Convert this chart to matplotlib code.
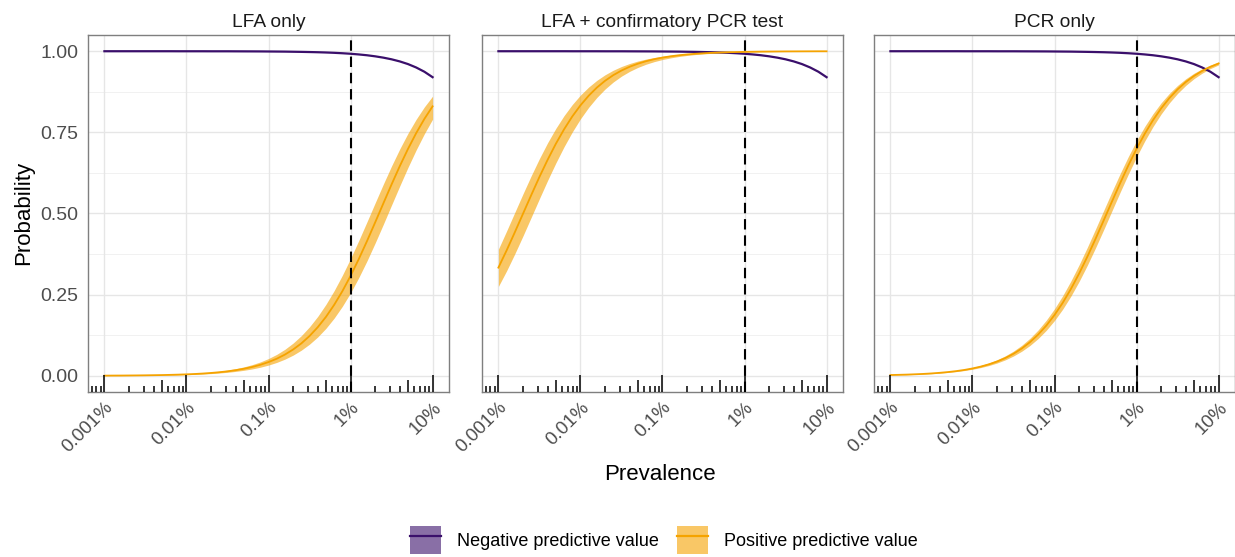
import matplotlib.pyplot as plt
from matplotlib.lines import Line2D
from matplotlib.patches import Patch
from matplotlib.transforms import blended_transform_factory

plt.rcParams['font.family'] = ['Liberation Sans', 'DejaVu Sans']

# prevalence (fraction), read every 0.1 decade from 0.001% to 10%
prevalence = [1.000e-5, 1.259e-5, 1.585e-5, 1.995e-5, 2.512e-5, 3.162e-5, 3.981e-5, 5.012e-5, 6.310e-5, 7.943e-5,
              1.000e-4, 1.259e-4, 1.585e-4, 1.995e-4, 2.512e-4, 3.162e-4, 3.981e-4, 5.012e-4, 6.310e-4, 7.943e-4,
              1.000e-3, 1.259e-3, 1.585e-3, 1.995e-3, 2.512e-3, 3.162e-3, 3.981e-3, 5.012e-3, 6.310e-3, 7.943e-3,
              1.000e-2, 1.259e-2, 1.585e-2, 1.995e-2, 2.512e-2, 3.162e-2, 3.981e-2, 5.012e-2, 6.310e-2, 7.943e-2,
              1.000e-1]

# negative predictive value (same in all three panels)
npv = [1.0000, 1.0000, 1.0000, 1.0000, 1.0000, 1.0000, 1.0000, 1.0000, 1.0000, 0.9999,
       0.9999, 0.9999, 0.9999, 0.9998, 0.9998, 0.9998, 0.9997, 0.9996, 0.9995, 0.9994,
       0.9992, 0.9990, 0.9988, 0.9984, 0.9980, 0.9975, 0.9969, 0.9961, 0.9951, 0.9938,
       0.9922, 0.9901, 0.9876, 0.9843, 0.9802, 0.9751, 0.9686, 0.9604, 0.9499, 0.9368,
       0.9200]

# positive predictive value: LFA only
ppv_lfa = [0.0004, 0.0006, 0.0007, 0.0009, 0.0011, 0.0014, 0.0018, 0.0022, 0.0028, 0.0035,
           0.0044, 0.0055, 0.0069, 0.0087, 0.0109, 0.0137, 0.0172, 0.0216, 0.0270, 0.0338,
           0.0422, 0.0525, 0.0653, 0.0809, 0.0997, 0.1225, 0.1496, 0.1814, 0.2184, 0.2605,
           0.3077, 0.3594, 0.4147, 0.4725, 0.5313, 0.5896, 0.6459, 0.6989, 0.7477, 0.7915,
           0.8302]
ppv_lfa_lo = [0.0003, 0.0004, 0.0005, 0.0007, 0.0009, 0.0011, 0.0014, 0.0017, 0.0021, 0.0027,
              0.0034, 0.0043, 0.0054, 0.0067, 0.0085, 0.0106, 0.0134, 0.0168, 0.0210, 0.0263,
              0.0329, 0.0411, 0.0512, 0.0636, 0.0789, 0.0974, 0.1196, 0.1462, 0.1776, 0.2140,
              0.2556, 0.3024, 0.3538, 0.4091, 0.4670, 0.5262, 0.5850, 0.6421, 0.6960, 0.7458,
              0.7907]
ppv_lfa_hi = [0.0006, 0.0007, 0.0009, 0.0011, 0.0014, 0.0018, 0.0022, 0.0028, 0.0035, 0.0044,
              0.0056, 0.0070, 0.0088, 0.0111, 0.0139, 0.0174, 0.0219, 0.0273, 0.0342, 0.0426,
              0.0531, 0.0659, 0.0816, 0.1007, 0.1236, 0.1509, 0.1829, 0.2200, 0.2623, 0.3096,
              0.3613, 0.4166, 0.4742, 0.5327, 0.5907, 0.6465, 0.6990, 0.7471, 0.7904, 0.8285,
              0.8615]

# positive predictive value: LFA + confirmatory PCR
ppv_conf = [0.3333, 0.3863, 0.4422, 0.4994, 0.5567, 0.6126, 0.6656, 0.7148, 0.7593, 0.7989,
            0.8333, 0.8629, 0.8880, 0.9089, 0.9263, 0.9405, 0.9522, 0.9616, 0.9693, 0.9755,
            0.9804, 0.9844, 0.9876, 0.9901, 0.9921, 0.9937, 0.9950, 0.9960, 0.9969, 0.9975,
            0.9980, 0.9984, 0.9988, 0.9990, 0.9992, 0.9994, 0.9995, 0.9996, 0.9997, 0.9998,
            0.9998]
ppv_conf_lo = [0.2754, 0.3235, 0.3759, 0.4312, 0.4884, 0.5458, 0.6021, 0.6557, 0.7057, 0.7511,
               0.7917, 0.8271, 0.8576, 0.8835, 0.9052, 0.9232, 0.9380, 0.9501, 0.9600, 0.9680,
               0.9744, 0.9795, 0.9837, 0.9870, 0.9897, 0.9918, 0.9935, 0.9948, 0.9959, 0.9967,
               0.9974, 0.9979, 0.9984, 0.9987, 0.9990, 0.9992, 0.9994, 0.9995, 0.9996, 0.9997,
               0.9998]
ppv_conf_hi = [0.3902, 0.4462, 0.5036, 0.5608, 0.6165, 0.6693, 0.7182, 0.7623, 0.8015, 0.8356,
               0.8649, 0.8896, 0.9103, 0.9274, 0.9415, 0.9529, 0.9622, 0.9698, 0.9758, 0.9807,
               0.9846, 0.9878, 0.9903, 0.9922, 0.9938, 0.9951, 0.9961, 0.9969, 0.9975, 0.9981,
               0.9985, 0.9988, 0.9990, 0.9992, 0.9994, 0.9995, 0.9996, 0.9997, 0.9998, 0.9998,
               0.9999]

# positive predictive value: PCR only
ppv_pcr = [0.0023, 0.0029, 0.0036, 0.0046, 0.0057, 0.0072, 0.0091, 0.0114, 0.0143, 0.0179,
           0.0225, 0.0282, 0.0352, 0.0439, 0.0546, 0.0678, 0.0839, 0.1034, 0.1268, 0.1546,
           0.1872, 0.2248, 0.2675, 0.3150, 0.3668, 0.4218, 0.4790, 0.5367, 0.5936, 0.6481,
           0.6991, 0.7457, 0.7874, 0.8240, 0.8556, 0.8825, 0.9051, 0.9239, 0.9394, 0.9520,
           0.9624]
ppv_pcr_lo = [0.0021, 0.0026, 0.0032, 0.0041, 0.0051, 0.0064, 0.0081, 0.0102, 0.0128, 0.0160,
              0.0201, 0.0252, 0.0315, 0.0393, 0.0490, 0.0609, 0.0755, 0.0932, 0.1146, 0.1401,
              0.1703, 0.2053, 0.2455, 0.2907, 0.3405, 0.3941, 0.4504, 0.5080, 0.5656, 0.6214,
              0.6743, 0.7233, 0.7675, 0.8067, 0.8408, 0.8700, 0.8947, 0.9154, 0.9325, 0.9465,
              0.9579]
ppv_pcr_hi = [0.0026, 0.0033, 0.0041, 0.0052, 0.0065, 0.0082, 0.0102, 0.0129, 0.0161, 0.0202,
              0.0253, 0.0317, 0.0396, 0.0493, 0.0613, 0.0760, 0.0938, 0.1153, 0.1410, 0.1713,
              0.2065, 0.2468, 0.2922, 0.3420, 0.3957, 0.4520, 0.5096, 0.5670, 0.6228, 0.6755,
              0.7242, 0.7683, 0.8072, 0.8411, 0.8701, 0.8946, 0.9151, 0.9321, 0.9460, 0.9573,
              0.9666]

titles = ['LFA only', 'LFA + confirmatory PCR test', 'PCR only']
x_breaks = [1e-5, 1e-4, 1e-3, 1e-2, 1e-1]
x_labels = ['0.001%', '0.01%', '0.1%', '1%', '10%']
y_breaks = [0, 0.25, 0.5, 0.75, 1.0]
y_labels = ['0.00', '0.25', '0.50', '0.75', '1.00']
threshold = 0.01

npv_col = '#3A0F6B'
ppv_col = '#F5A300'

panels = [(ppv_lfa, ppv_lfa_lo, ppv_lfa_hi),
          (ppv_conf, ppv_conf_lo, ppv_conf_hi),
          (ppv_pcr, ppv_pcr_lo, ppv_pcr_hi)]

W, H = 1235, 557
fig = plt.figure(figsize=(W / 100, H / 100), dpi=100)
lefts = [88, 482, 874]
pw = 361
top, bottom = 35, 392
xmin, xmax = 10 ** -5.2, 10 ** -0.8

for i, (ppv, lo, hi) in enumerate(panels):
    ax = fig.add_axes([lefts[i] / W, 1 - bottom / H, pw / W, (bottom - top) / H])
    ax.set_xscale('log')
    ax.set_xlim(xmin, xmax)
    ax.set_ylim(-0.05, 1.05)

    # grid
    for yv in [0.125, 0.375, 0.625, 0.875]:
        ax.axhline(yv, color='#EFEFEF', lw=0.6, zorder=0)
    for yv in y_breaks:
        ax.axhline(yv, color='#E6E6E6', lw=1.0, zorder=0)
    for xv in x_breaks:
        ax.axvline(xv, color='#E6E6E6', lw=1.0, zorder=0)

    ax.fill_between(prevalence, lo, hi, color=ppv_col, alpha=0.6, lw=0, zorder=2)
    ax.plot(prevalence, npv, color=npv_col, lw=1.6, zorder=3)
    ax.plot(prevalence, ppv, color=ppv_col, lw=1.3, zorder=4)
    ax.axvline(threshold, color='black', lw=1.5, ls=(0, (5, 2.8)), zorder=5)

    # log ticks along the bottom
    tr = blended_transform_factory(ax.transData, ax.transAxes)
    for dec in range(-6, 0):
        for m in range(1, 10):
            xv = m * 10.0 ** dec
            if xv < xmin or xv > xmax:
                continue
            h = 0.047 if m == 1 else (0.033 if m == 5 else 0.017)
            ax.plot([xv, xv], [0, h], color='black', lw=1.1, transform=tr,
                    zorder=6, clip_on=False, solid_capstyle='butt')

    ax.set_xticks(x_breaks)
    ax.set_xticklabels(x_labels)
    ax.minorticks_off()
    ax.tick_params(axis='both', length=0, labelsize=14, colors='#4D4D4D')
    ax.tick_params(axis='x', pad=5, labelsize=13.5)
    for lab in ax.get_xticklabels():
        lab.set_rotation(45)
        lab.set_ha('right')
        lab.set_va('top')
        lab.set_rotation_mode('anchor')
    ax.set_yticks(y_breaks)
    if i == 0:
        ax.set_yticklabels(y_labels)
        ax.tick_params(axis='y', pad=7)
    else:
        ax.set_yticklabels([])
    for s in ax.spines.values():
        s.set_color('#7F7F7F')
        s.set_linewidth(1.0)
    ax.set_title(titles[i], fontsize=13.8, color='#1A1A1A', pad=6)

fig.text(24 / W, 1 - 213 / H, 'Probability', rotation=90, ha='center', va='center',
         fontsize=16)
fig.text(660 / W, 1 - 475 / H, 'Prevalence', ha='center', va='center', fontsize=16)

handles = [(Patch(facecolor=npv_col, alpha=0.6, edgecolor='none'),
            Line2D([], [], color=npv_col, lw=1.6)),
           (Patch(facecolor=ppv_col, alpha=0.6, edgecolor='none'),
            Line2D([], [], color=ppv_col, lw=1.6))]
fig.legend(handles, ['Negative predictive value', 'Positive predictive value'],
           loc='center', bbox_to_anchor=(664 / W, 1 - 540 / H), ncol=2,
           frameon=False, fontsize=13, handlelength=1.7, handleheight=2.0,
           handletextpad=0.9, columnspacing=1.0)

fig.savefig('out.png', dpi=100)
